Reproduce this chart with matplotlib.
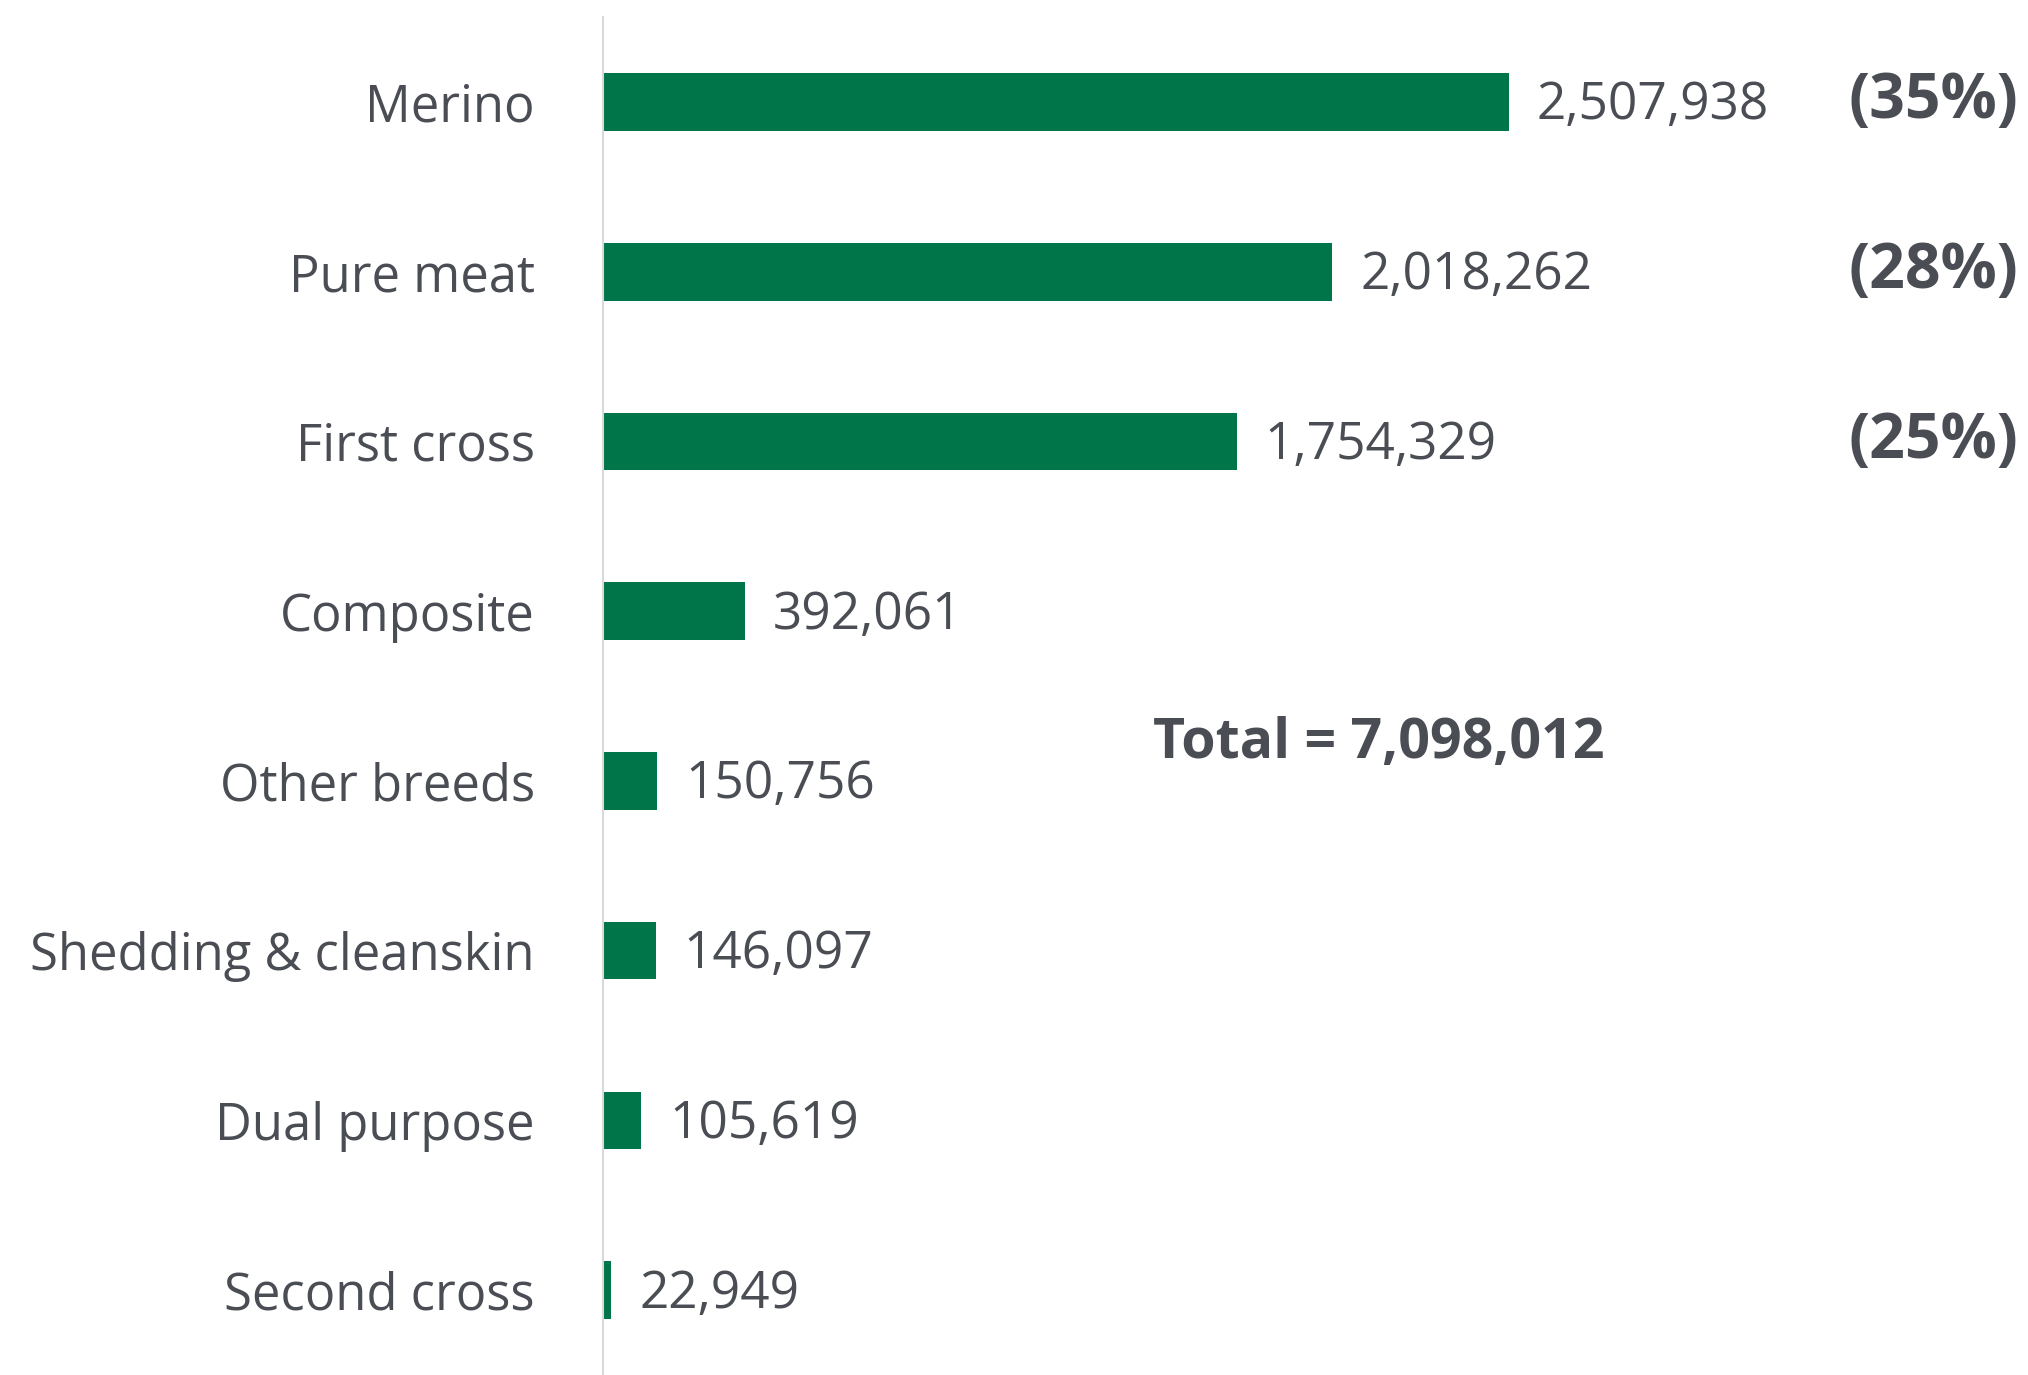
import matplotlib
matplotlib.use("Agg")
import matplotlib.pyplot as plt
import matplotlib.transforms as mtransforms

# ---------------------------------------------------------------------------
# Data
# ---------------------------------------------------------------------------
breeds = ["Merino", "Pure meat", "First cross", "Composite", "Other breeds",
          "Shedding & cleanskin", "Dual purpose", "Second cross"]
counts = [2507938, 2018262, 1754329, 392061, 150756, 146097, 105619, 22949]
shares = ["(35%)", "(28%)", "(25%)"]
total_label = "Total = 7,098,012"

GREEN = "#00754A"
TEXT = "#4A4E54"

plt.rcParams["font.family"] = ["Open Sans", "DejaVu Sans"]

fig = plt.figure(figsize=(20.28, 13.75), dpi=100)
ax = fig.add_axes([0.2973, 0.0, 0.7027, 0.9876])

ypos = list(range(len(breeds)))
ax.barh(ypos, counts, height=0.34, color=GREEN, zorder=2)

for y, v in zip(ypos, counts):
    ax.annotate(f"{v:,}", (v, y), xytext=(28, -4), textcoords="offset pixels",
                va="center", ha="left", fontsize=37, color=TEXT)

# Percent labels on the right edge
trans = mtransforms.blended_transform_factory(ax.transAxes, ax.transData)
for y, s in zip(ypos, shares):
    ax.text(0.993, y, s, transform=trans, ha="right", va="center",
            fontsize=45, fontweight="bold", color=TEXT)

ax.text(2148000, 3.78, total_label, ha="center", va="center",
        fontsize=40, fontweight="bold", color=TEXT)

ax.set_xlim(0, 3944600)
ax.set_ylim(7.5, -0.5)
ax.set_yticks(ypos)
ax.set_yticklabels(breeds, fontsize=36.5, color=TEXT)
ax.tick_params(axis="y", length=0, pad=49)
ax.set_xticks([])
for side in ["top", "right", "bottom"]:
    ax.spines[side].set_visible(False)
ax.spines["left"].set_color("#D9D9D9")
ax.spines["left"].set_linewidth(1.5)

fig.savefig("out.png", dpi=100)
